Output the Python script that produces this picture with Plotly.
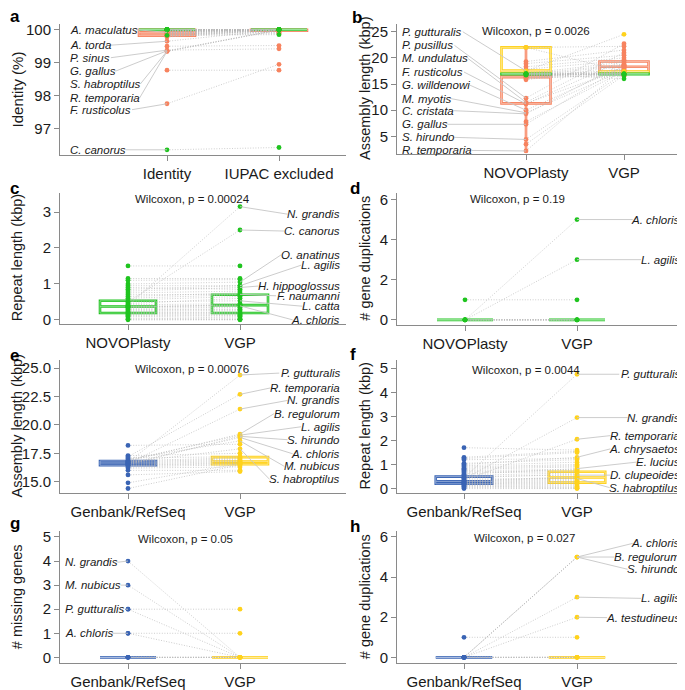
import plotly.graph_objects as go

FONT = "Liberation Sans, Arial, sans-serif"
INK = "#1a1a1a"
AXIS = "#8a8a8a"
PAIR = "#b8b8b8"
LEADER = "#c6c6c6"
GREEN = "#1fc41f"
ORANGE = "#f7835f"
YELLOW = "#ffd21c"
BLUE = "#3a64b4"

# ---------------- data ----------------
# box stats per category: [lower whisker, q1, median, q3, upper whisker]

# a: identity (%)
a_cats = ["Identity", "IUPAC excluded"]
a_green_names = ["", "", "", "", "", "", "", "", "", "", "", "", "", "C. canorus"]
a_green_identity = [100, 100, 100, 100, 100, 100, 100, 100, 100, 100, 100, 100, 99.83, 96.35]
a_green_iupac = [100, 100, 100, 100, 100, 100, 100, 100, 100, 100, 100, 100, 99.85, 96.42]
a_green_box = [[100, 100, 100, 100, 100], [100, 100, 100, 100, 100]]
a_orange_names = ["A. maculatus", "A. torda", "P. sinus", "G. gallus", "S. habroptilus", "R. temporaria",
                  "F. rusticolus", "", "", "", "", "", "", "", "", "", "", "", "", "", "", "", "", "",
                  "", "", "", ""]
a_orange_identity = [99.92, 99.65, 99.38, 99.36, 99.35, 99.34, 97.75, 98.77, 99.50, 100, 100, 100, 99.99,
                     99.98, 99.97, 99.96, 99.95, 99.94, 99.93, 99.91, 99.90, 99.89, 99.88, 99.86, 99.84,
                     99.82, 99.80, 99.78]
a_orange_iupac = [100, 100, 99.42, 100, 99.99, 100, 98.95, 98.77, 99.52, 100, 100, 100, 100, 100, 99.97,
                  100, 100, 99.95, 100, 100, 99.92, 100, 99.90, 100, 100, 99.88, 100, 100]
a_orange_box = [[99.65, 99.82, 99.92, 100, 100], [99.9, 99.97, 100, 100, 100]]

# b: assembly length (kbp), NOVOPlasty vs VGP
b_cats = ["NOVOPlasty", "VGP"]
b_yellow_names = ["P. gutturalis", "", ""]
b_yellow_novo = [17.5, 22.0, 17.3]
b_yellow_vgp = [24.5, 17.4, 17.2]
b_yellow_box = [[17.3, 17.4, 17.5, 22.0, 22.0], [17.2, 17.3, 17.35, 17.4, 17.4]]
b_green_names = ["", "", "", "", "", "", "", ""]
b_green_novo = [16.9, 16.9, 16.8, 17.0, 16.9, 16.7, 16.9, 17.0]
b_green_vgp = [16.9, 16.8, 16.9, 17.0, 16.0, 16.7, 16.9, 16.9]
b_green_box = [[16.7, 16.9, 16.95, 16.95, 17.0], [16.7, 16.9, 16.95, 16.95, 17.0]]
b_orange_names = ["P. pusillus", "M. undulatus", "F. rusticolus", "G. willdenowi", "M. myotis", "C. cristata",
                  "G. gallus", "S. hirundo", "R. temporaria", "", "", "", "", "", "", "", "", "", "", "",
                  "", "", "", "", ""]
b_orange_novo = [12.3, 11.5, 11.2, 10.0, 9.5, 9.3, 7.3, 4.4, 2.2, 7.8, 3.5, 11.3, 22.0, 19.3, 18.9, 18.3,
                 17.8, 17.0, 16.8, 16.5, 16.4, 16.3, 16.2, 16.0, 15.8]
b_orange_vgp = [22.7, 21.0, 19.6, 18.4, 17.6, 19.0, 18.5, 17.1, 18.2, 17.5, 16.7, 18.0, 22.2, 21.5, 20.5,
                20.0, 19.5, 19.2, 18.8, 18.6, 17.8, 16.5, 17.3, 16.9, 18.5]
b_orange_box = [[2.2, 11.3, 16.4, 16.5, 22.0], [16.5, 17.3, 18.3, 19.3, 22.7]]

# c: repeat length (kbp), NOVOPlasty vs VGP
c_cats = ["NOVOPlasty", "VGP"]
c_names = ["N. grandis", "C. canorus", "O. anatinus", "L. agilis", "H. hippoglossus", "F. naumanni",
           "L. catta", "A. chloris", "", "", "", "", "", "", "", "", "", "", "", "", "", "", "", "", "",
           "", "", "", "", "", "", "", "", ""]
c_novo = [0.40, 0.50, 1.00, 0.85, 0.80, 0.70, 0.50, 0.38, 1.50, 1.15, 1.10, 0.95, 0.90, 0.75, 0.65, 0.60,
          0.55, 0.45, 0.42, 0.36, 0.35, 0.33, 0.30, 0.28, 0.25, 0.22, 0.20, 0.18, 0.15, 0.12, 0.10, 0.05,
          0.02, 0.00]
c_vgp = [3.15, 2.50, 1.05, 0.95, 0.90, 0.71, 0.53, 0.39, 1.50, 1.15, 1.12, 0.95, 0.85, 0.80, 0.75, 0.70,
         0.65, 0.60, 0.45, 0.42, 0.41, 0.35, 0.30, 0.28, 0.25, 0.20, 0.18, 0.15, 0.12, 0.10, 0.05, 0.02,
         0.01, 0.00]
c_box = [[0.0, 0.19, 0.37, 0.53, 1.0], [0.0, 0.19, 0.41, 0.70, 1.15]]

# d: gene duplications, NOVOPlasty vs VGP
d_cats = ["NOVOPlasty", "VGP"]
d_names = ["A. chloris", "L. agilis", "", "", "", "", "", ""]
d_novo = [0, 0, 1, 0, 0, 0, 0, 0]
d_vgp = [5, 3, 1, 0, 0, 0, 0, 0]
d_box = [[0, 0, 0, 0, 0], [0, 0, 0, 0, 0]]

# e: assembly length (kbp), Genbank/RefSeq vs VGP
e_cats = ["Genbank/RefSeq", "VGP"]
e_names = ["P. gutturalis", "R. temporaria", "N. grandis", "B. regulorum", "L. agilis", "S. hirundo",
           "A. chloris", "M. nubicus", "S. habroptilus", "", "", "", "", "", "", "", "", "", "", "", "",
           "", "", ""]
e_genbank = [16.7, 17.2, 16.6, 16.8, 16.9, 16.5, 16.6, 17.0, 16.7, 18.2, 17.3, 17.1, 16.85, 16.75, 16.65,
             16.55, 16.45, 16.4, 16.3, 16.2, 16.0, 15.6, 14.9, 14.4]
e_vgp = [24.4, 22.7, 21.4, 19.2, 19.1, 19.0, 18.9, 18.6, 17.9, 18.3, 17.5, 17.2, 17.1, 17.0, 16.9, 16.8,
         16.7, 16.6, 16.5, 16.3, 16.0, 15.9, 16.6, 16.5]
e_box = [[16.0, 16.45, 16.65, 16.83, 17.3], [15.9, 16.54, 16.77, 17.17, 17.9]]

# f: repeat length (kbp), Genbank/RefSeq vs VGP
f_cats = ["Genbank/RefSeq", "VGP"]
f_names = ["P. gutturalis", "N. grandis", "R. temporaria", "A. chrysaetos", "E. lucius", "D. clupeoides",
           "S. habroptilus", "", "", "", "", "", "", "", "", "", "", "", "", "", "", "", "", "", "", "",
           "", "", "", "", "", "", ""]
f_genbank = [0.45, 0.40, 0.35, 1.00, 0.60, 0.50, 0.40, 1.70, 1.30, 1.25, 1.20, 1.05, 0.95, 0.90, 0.85,
             0.80, 0.75, 0.70, 0.65, 0.55, 0.45, 0.32, 0.30, 0.28, 0.25, 0.22, 0.20, 0.18, 0.15, 0.12,
             0.10, 0.05, 0.00]
f_vgp = [4.75, 2.95, 2.05, 1.30, 0.83, 0.56, 0.42, 1.60, 1.55, 1.50, 1.25, 1.20, 1.10, 1.00, 0.95, 0.90,
         0.80, 0.75, 0.70, 0.65, 0.60, 0.50, 0.46, 0.40, 0.35, 0.30, 0.25, 0.20, 0.15, 0.10, 0.05, 0.02,
         0.00]
f_box = [[0.0, 0.20, 0.30, 0.50, 0.95], [0.0, 0.25, 0.46, 0.70, 1.35]]

# g: missing genes
g_cats = ["Genbank/RefSeq", "VGP"]
g_names = ["N. grandis", "M. nubicus", "P. gutturalis", "A. chloris", "", "", "", "", "", ""]
g_genbank = [4, 3, 2, 1, 2, 1, 0, 0, 0, 0]
g_vgp = [0, 0, 0, 0, 2, 1, 0, 0, 0, 0]
g_box = [[0, 0, 0, 0, 0], [0, 0, 0, 0, 0]]

# h: gene duplications, Genbank/RefSeq vs VGP
h_cats = ["Genbank/RefSeq", "VGP"]
h_names = ["A. chloris", "B. regulorum", "S. hirundo", "L. agilis", "A. testudineus", "", "", "", "", ""]
h_genbank = [0, 0, 0, 0, 0, 1, 0, 0, 0, 0]
h_vgp = [5, 5, 5, 3, 2, 1, 0, 0, 0, 0]
h_box = [[0, 0, 0, 0, 0], [0, 0, 0, 0, 0]]

p_values = {"b": "0.0026", "c": "0.00024", "d": "0.19", "e": "0.00076",
            "f": "0.0044", "g": "0.05", "h": "0.027"}

# ---------------- layout (pixels of the 685 x 690 page) ----------------
# the page body keeps its default 8px margin, so the figure starts at (8, 8)
OFF = 8
W, H = 685 - OFF, 690 - OFF
LEFT, RIGHT = (60, 346), (397, 683)
TITLE_X = {"left": 17, "right": 365}

panels = [
    dict(letter="a", title="Identity (%)", cats=a_cats, xpx=LEFT, cat_px=(167, 279), ypx=(21, 154),
         yscale=((100, 27), (97, 127)), ticks=[97, 98, 99, 100], fmt="", side="left", lab_px=68, col=0,
         groups=[(a_orange_names, a_orange_identity, a_orange_iupac, (ORANGE, ORANGE), a_orange_box),
                 (a_green_names, a_green_identity, a_green_iupac, (GREEN, GREEN), a_green_box)],
         lab_y={"A. maculatus": 100.0, "A. torda": 99.53, "P. sinus": 99.15, "G. gallus": 98.74,
                "S. habroptilus": 98.35, "R. temporaria": 97.93, "F. rusticolus": 97.57, "C. canorus": 96.35},
         letter_px=(8, 19)),
    dict(letter="b", title="Assembly length (kbp)", cats=b_cats, xpx=RIGHT, cat_px=(526, 624), ypx=(21, 153),
         yscale=((25, 29), (5, 135)), ticks=[5, 10, 15, 20, 25], fmt="", side="left", lab_px=400, col=0,
         groups=[(b_orange_names, b_orange_novo, b_orange_vgp, (ORANGE, ORANGE), b_orange_box),
                 (b_yellow_names, b_yellow_novo, b_yellow_vgp, (YELLOW, YELLOW), b_yellow_box),
                 (b_green_names, b_green_novo, b_green_vgp, (GREEN, GREEN), b_green_box)],
         lab_y={"P. gutturalis": 25.0, "P. pusillus": 22.4, "M. undulatus": 19.9, "F. rusticolus": 17.3,
                "G. willdenowi": 14.8, "M. myotis": 12.2, "C. cristata": 9.9, "G. gallus": 7.3,
                "S. hirundo": 4.8, "R. temporaria": 2.3},
         wil=(480, 28), letter_px=(350, 20)),
    dict(letter="c", title="Repeat length (kbp)", cats=c_cats, xpx=LEFT, cat_px=(128, 240), ypx=(192, 325),
         yscale=((3, 211.7), (0, 321)), ticks=[0, 1, 2, 3], fmt="", side="right", lab_px=342, col=1,
         groups=[(c_names, c_novo, c_vgp, (GREEN, GREEN), c_box)],
         lab_y={"N. grandis": 2.94, "C. canorus": 2.47, "O. anatinus": 1.81, "L. agilis": 1.52,
                "H. hippoglossus": 0.94, "F. naumanni": 0.67, "L. catta": 0.38, "A. chloris": 0.0},
         wil=(133, 199), letter_px=(8, 193)),
    dict(letter="d", title="# gene duplications", cats=d_cats, xpx=RIGHT, cat_px=(465, 577), ypx=(192, 326),
         yscale=((6, 199), (0, 321)), ticks=[0, 2, 4, 6], fmt="", side="right", lab_px=682, col=1,
         groups=[(d_names, d_novo, d_vgp, (GREEN, GREEN), d_box)],
         lab_y={"A. chloris": 5, "L. agilis": 3},
         wil=(468, 199), letter_px=(348, 193)),
    dict(letter="e", title="Assembly length (kbp)", cats=e_cats, xpx=LEFT, cat_px=(128, 240), ypx=(362, 496),
         yscale=((25, 370), (15, 485)), ticks=[15, 17.5, 20, 22.5, 25], fmt=".1f", side="right", lab_px=342,
         col=1, groups=[(e_names, e_genbank, e_vgp, (BLUE, YELLOW), e_box)],
         lab_y={"P. gutturalis": 24.57, "R. temporaria": 23.26, "N. grandis": 22.16, "B. regulorum": 21.0,
                "L. agilis": 19.84, "S. hirundo": 18.7, "A. chloris": 17.46, "M. nubicus": 16.35,
                "S. habroptilus": 15.2},
         wil=(133, 371), letter_px=(8, 362)),
    dict(letter="f", title="Repeat length (kbp)", cats=f_cats, xpx=RIGHT, cat_px=(464, 577), ypx=(362, 496),
         yscale=((5, 370), (0, 492)), ticks=[0, 1, 2, 3, 4, 5], fmt="", side="right", lab_px=682, col=1,
         groups=[(f_names, f_genbank, f_vgp, (BLUE, YELLOW), f_box)],
         lab_y={"P. gutturalis": 4.75, "N. grandis": 2.95, "R. temporaria": 2.2, "A. chrysaetos": 1.65,
                "E. lucius": 1.1, "D. clupeoides": 0.56, "S. habroptilus": 0.04},
         wil=(470, 372), letter_px=(348, 361)),
    dict(letter="g", title="# missing genes", cats=g_cats, xpx=LEFT, cat_px=(128, 240), ypx=(535, 669),
         yscale=((5, 541), (0, 663)), ticks=[0, 1, 2, 3, 4, 5], fmt="", side="left", lab_px=63, col=0,
         groups=[(g_names, g_genbank, g_vgp, (BLUE, YELLOW), g_box)],
         lab_y={"N. grandis": 3.95, "M. nubicus": 3.0, "P. gutturalis": 2.0, "A. chloris": 1.0},
         wil=(136, 543), letter_px=(8, 532)),
    dict(letter="h", title="# gene duplications", cats=h_cats, xpx=RIGHT, cat_px=(464, 577), ypx=(535, 669),
         yscale=((6, 541), (0, 663)), ticks=[0, 2, 4, 6], fmt="", side="right", lab_px=682, col=1,
         groups=[(h_names, h_genbank, h_vgp, (BLUE, YELLOW), h_box)],
         lab_y={"A. chloris": 5.68, "B. regulorum": 5.0, "S. hirundo": 4.39, "L. agilis": 2.94,
                "A. testudineus": 1.98},
         wil=(472, 542), letter_px=(348, 535)),
]

# Arial / Liberation Sans advance widths (per 1000 em), for leader line starts
_chars = "ABCDEFGHLMNOPRSTabcdefghijklmnopqrstuvwxyz. "
_widths = [667, 667, 722, 722, 667, 611, 778, 722, 556, 833, 722, 778, 667, 722, 667, 611,
           556, 556, 500, 556, 556, 278, 556, 556, 222, 222, 500, 222, 833, 556, 556, 556, 556,
           333, 500, 278, 556, 500, 722, 500, 500, 500, 278, 278]
CHAR_W = dict(zip(_chars, _widths))
LAB_FS = 11.5


def text_px(s, fs):
    return sum(CHAR_W.get(ch, 556) for ch in s) * fs / 1000


def lighten(hex_color, k=0.6):
    r, g, b = (int(hex_color[i:i + 2], 16) for i in (1, 3, 5))
    return "rgb(%d,%d,%d)" % (r + (255 - r) * k, g + (255 - g) * k, b + (255 - b) * k)


def page_x(px):
    return (px - OFF) / W


def page_y(px):
    return 1 - (px - OFF) / H


fig = go.Figure()
layout = {}
annotations = []

for k, p in enumerate(panels, start=1):
    xa, ya = ("x", "y") if k == 1 else ("x%d" % k, "y%d" % k)
    c0, c1 = p["cat_px"]
    ppu_x = c1 - c0
    to_x = lambda px: (px - c0) / ppu_x
    (v1, p1), (v2, p2) = p["yscale"]
    to_y = lambda px: v1 + (px - p1) * (v2 - v1) / (p2 - p1)
    x0, x1 = p["xpx"]
    top, bot = p["ypx"]

    layout["xaxis" if k == 1 else "xaxis%d" % k] = dict(
        domain=[page_x(x0), page_x(x1)], range=[to_x(x0), to_x(x1)], anchor=ya,
        tickvals=[0, 1], ticktext=p["cats"], showline=True, linecolor=AXIS, linewidth=1,
        ticks="outside", ticklen=5, tickcolor=AXIS, showgrid=False, zeroline=False,
        tickfont=dict(size=15, color=INK, family=FONT))
    layout["yaxis" if k == 1 else "yaxis%d" % k] = dict(
        domain=[page_y(bot), page_y(top)], range=[to_y(bot), to_y(top)], anchor=xa,
        tickvals=p["ticks"], tickformat=p["fmt"], showline=True, linecolor=AXIS, linewidth=1,
        ticks="outside", ticklen=5, tickcolor=AXIS, showgrid=False, zeroline=False,
        tickfont=dict(size=15, color=INK, family=FONT))

    # y title, aligned per column as in the original figure
    tx = TITLE_X["left" if x0 < 200 else "right"]
    annotations.append(dict(x=page_x(tx), y=page_y((top + bot) / 2), xref="paper", yref="paper",
                            text=p["title"], textangle=-90, xanchor="center", yanchor="middle",
                            showarrow=False,
                            font=dict(size=15 if k == 1 else 14.5, color=INK, family=FONT)))

    # boxes (thick coloured outline with a pale core)
    for names, v0, v1_, colors, box in p["groups"]:
        for ci in (0, 1):
            lo, q1, med, q3, hi = box[ci]
            for lw, col in ((2.6, colors[ci]), (0.7, lighten(colors[ci]))):
                fig.add_trace(go.Box(x=[ci], lowerfence=[lo], q1=[q1], median=[med], q3=[q3],
                                     upperfence=[hi], width=0.5, whiskerwidth=0, boxpoints=False,
                                     line=dict(color=col, width=lw), fillcolor="rgba(0,0,0,0)",
                                     xaxis=xa, yaxis=ya, showlegend=False, hoverinfo="skip"))

    # paired dotted lines
    px_, py_ = [], []
    for names, v0, v1_, colors, box in p["groups"]:
        for a_, b_ in zip(v0, v1_):
            px_ += [0, 1, None]
            py_ += [a_, b_, None]
    fig.add_trace(go.Scatter(x=px_, y=py_, mode="lines", xaxis=xa, yaxis=ya, showlegend=False,
                             line=dict(color=PAIR, width=0.7, dash="1px,1.6px"), hoverinfo="skip"))

    # points
    for names, v0, v1_, colors, box in p["groups"]:
        for ci, vals in ((0, v0), (1, v1_)):
            fig.add_trace(go.Scatter(x=[ci] * len(vals), y=vals, mode="markers", xaxis=xa, yaxis=ya,
                                     marker=dict(color=colors[ci], size=4.8, line=dict(width=0)),
                                     showlegend=False, hoverinfo="skip"))

    # species labels with leader lines
    lx, ly = [], []
    lab_x = to_x(p["lab_px"])
    for names, v0, v1_, colors, box in p["groups"]:
        vals = (v0, v1_)[p["col"]]
        for name, v in zip(names, vals):
            if not name:
                continue
            yl = p["lab_y"][name]
            w = (text_px(name, LAB_FS) + 2) / ppu_x
            start = lab_x + w if p["side"] == "left" else lab_x - w
            lx += [start, p["col"], None]
            ly += [yl, v, None]
            annotations.append(dict(x=lab_x, y=yl, xref=xa, yref=ya, text="<i>%s</i>" % name,
                                    xanchor=p["side"], yanchor="middle", showarrow=False,
                                    font=dict(size=LAB_FS, color=INK, family=FONT)))
    fig.add_trace(go.Scatter(x=lx, y=ly, mode="lines", xaxis=xa, yaxis=ya, showlegend=False,
                             line=dict(color=LEADER, width=0.9), hoverinfo="skip"))

    if "wil" in p:
        wx, wy = p["wil"]
        annotations.append(dict(x=to_x(wx), y=to_y(wy), xref=xa, yref=ya,
                                text="Wilcoxon, p = %s" % p_values[p["letter"]], xanchor="left",
                                yanchor="middle", showarrow=False,
                                font=dict(size=11.5, color=INK, family=FONT)))

    lxp, lyp = p["letter_px"]
    annotations.append(dict(x=page_x(lxp), y=page_y(lyp - 5), xref="paper", yref="paper",
                            text="<b>%s</b>" % p["letter"], xanchor="left", yanchor="middle",
                            showarrow=False, font=dict(size=17, color="#000000", family=FONT)))

fig.update_layout(width=W, height=H, margin=dict(l=0, r=0, t=0, b=0), plot_bgcolor="white",
                  paper_bgcolor="white", boxmode="overlay", showlegend=False,
                  font=dict(family=FONT, color=INK), annotations=annotations, **layout)

fig.write_html("out.html")
